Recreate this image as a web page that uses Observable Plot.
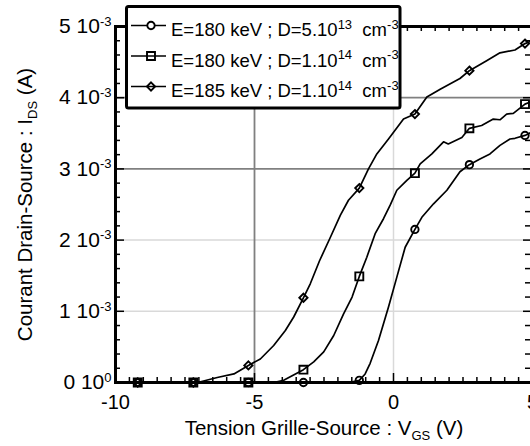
<!DOCTYPE html>
<html><head><meta charset="utf-8">
<script src="https://cdn.jsdelivr.net/npm/d3@7"></script>
<script src="https://cdn.jsdelivr.net/npm/@observablehq/plot@0.6"></script>
<style>
html,body{margin:0;padding:0;background:#fff;overflow:hidden;width:530px;height:446px}
#chart{position:relative;width:534px;height:446px}
#chart svg{display:block}
#legend{position:absolute;left:0;top:0;pointer-events:none}
</style>
</head><body><div id="chart"></div>
<script>
// ---- data (I_DS in mA, V_GS in V) ----
const seriesLabels = [
  "E=180 keV ; D=5.10^{13}  cm^{-3}",
  "E=180 keV ; D=1.10^{14}  cm^{-3}",
  "E=185 keV ; D=1.10^{14}  cm^{-3}"
];
const seriesSymbols = ["circle", "square", "diamond2"];
const markerVgs = [-9.2, -7.2, -5.22, -3.24, -1.23, 0.77, 2.73, 4.73];

const vgsCircle = [-10, -9.2, -7.2, -5.22, -3.24, -1.6, -1.23, -1.02, -0.84, -0.54, -0.18, 0.12, 0.42, 0.77, 1.02, 1.44, 1.92, 2.39, 2.73, 3.11, 3.47, 3.83, 4.19, 4.37, 4.73, 5.0];
const idsCircle = [0, 0, 0, 0, 0, 0, 0.03, 0.12, 0.27, 0.59, 1.06, 1.48, 1.90, 2.15, 2.32, 2.51, 2.70, 2.96, 3.06, 3.14, 3.21, 3.33, 3.42, 3.43, 3.47, 3.52];

const vgsSquare = [-10, -9.2, -7.2, -5.22, -4.31, -3.95, -3.24, -2.87, -2.51, -2.15, -1.80, -1.49, -1.23, -0.96, -0.66, -0.36, -0.12, 0.12, 0.48, 0.77, 0.96, 1.38, 1.80, 1.97, 2.46, 2.73, 3.17, 3.59, 3.83, 4.07, 4.31, 4.73, 5.0];
const idsSquare = [0, 0, 0, 0, 0, 0.03, 0.18, 0.29, 0.43, 0.66, 0.96, 1.20, 1.49, 1.76, 2.09, 2.30, 2.49, 2.70, 2.84, 2.94, 3.07, 3.21, 3.38, 3.35, 3.44, 3.57, 3.61, 3.70, 3.69, 3.77, 3.78, 3.91, 3.95];

const vgsDiamond = [-10, -9.2, -7.2, -6.94, -6.34, -5.74, -5.22, -4.79, -4.31, -3.89, -3.59, -3.24, -2.99, -2.66, -2.27, -1.91, -1.62, -1.23, -0.90, -0.60, -0.18, 0.36, 0.77, 1.20, 1.68, 2.39, 2.73, 3.35, 3.83, 4.37, 4.73, 5.0];
const idsDiamond = [0, 0, 0, 0.01, 0.07, 0.12, 0.24, 0.33, 0.52, 0.73, 0.92, 1.19, 1.39, 1.71, 2.04, 2.35, 2.56, 2.73, 3.00, 3.21, 3.42, 3.70, 3.77, 4.01, 4.12, 4.27, 4.38, 4.52, 4.63, 4.67, 4.76, 4.80];

const yTickValues = [0, 1, 2, 3, 4, 5];
const yTickLabels = ["0 10^{0}", "1 10^{-3}", "2 10^{-3}", "3 10^{-3}", "4 10^{-3}", "5 10^{-3}"];
const xTickValues = [-10, -5, 0, 5];
const xTitle = "Tension Grille-Source : V_{GS} (V)";
const yTitle = "Courant Drain-Source : I_{DS} (A)";

// ---- build tables ----
const seriesV = [vgsCircle, vgsSquare, vgsDiamond];
const seriesI = [idsCircle, idsSquare, idsDiamond];
const rows = [];
seriesV.forEach((vs, s) => vs.forEach((v, j) => rows.push({s, vgs: v, ids: seriesI[s][j]})));
const markerRows = rows.filter(d => markerVgs.includes(d.vgs));

const W = 534, H = 446, mL = 115, mR = 2, mT = 26, mB = 64;
const fH = H - mT - mB, fW = W - mL - mR;
const xMinor = d3.range(-10, 5.001, 0.5).filter(v => Math.abs(v % 5) > 1e-9);
const xMajor = [-5, 0];
const yMinor = d3.range(0, 26).map(k => k / 5).filter(v => Math.abs(v - Math.round(v)) > 1e-9);
const yMajor = [1, 2, 3, 4];
const dotR = [3.7, 4.5, 3.7];

const tk = {stroke: "#000", strokeWidth: 1.5};
const chart = Plot.plot({
  width: W, height: H, marginLeft: mL, marginRight: mR, marginTop: mT, marginBottom: mB,
  style: {fontFamily: "'Liberation Sans', Arial, sans-serif", fontSize: "20px", color: "#000", background: "#fff", overflow: "visible"},
  x: {domain: [-10, 5], ticks: xTickValues, tickSize: 0, tickPadding: 12, tickFormat: d => String(d), label: null},
  y: {domain: [0, 5], ticks: yTickValues, tickSize: 0, tickPadding: 4, tickFormat: d => yTickLabels[yTickValues.indexOf(d)], label: null},
  marks: [
    Plot.ruleX([0], {x: d => d, stroke: "#d9d9d9", strokeWidth: 1.5}),
    Plot.ruleY([1, 2], {y: d => d, stroke: "#d9d9d9", strokeWidth: 1.5}),
    Plot.ruleX([-5], {x: d => d, stroke: "#808080", strokeWidth: 1.8}),
    Plot.ruleY([3, 4], {y: d => d, stroke: "#808080", strokeWidth: 1.8}),
    Plot.tickX(xMinor, {x: d => d, ...tk, insetTop: fH - 5}),
    Plot.tickX(xMajor, {x: d => d, ...tk, insetTop: fH - 9}),
    Plot.tickX(xMinor, {x: d => d, ...tk, insetBottom: fH - 5}),
    Plot.tickX(xMajor, {x: d => d, ...tk, insetBottom: fH - 9}),
    Plot.tickY(yMinor, {y: d => d, ...tk, insetRight: fW - 5}),
    Plot.tickY(yMajor, {y: d => d, ...tk, insetRight: fW - 9}),
    Plot.tickY(yMinor, {y: d => d, ...tk, insetLeft: fW - 7}),
    Plot.tickY(yMajor, {y: d => d, ...tk, insetLeft: fW - 9}),
    Plot.line(rows, {x: "vgs", y: "ids", z: "s", stroke: "#000", strokeWidth: 1.7, curve: "linear"}),
    ...seriesSymbols.map((sym, s) => Plot.dot(markerRows.filter(d => d.s === s), {x: "vgs", y: "ids", symbol: sym, r: dotR[s], stroke: "#000", strokeWidth: 1.9, fill: "none"})),
    Plot.frame({stroke: "#000", strokeWidth: 3}),
    Plot.text([xTitle], {frameAnchor: "bottom", dy: 46, fontSize: 20.5, textAnchor: "middle", lineAnchor: "middle", text: d => d}),
    Plot.text([yTitle], {frameAnchor: "left", dx: -90, rotate: -90, fontSize: 20.5, textAnchor: "middle", lineAnchor: "middle", text: d => d})
  ]
});
const host = document.getElementById("chart");
host.appendChild(chart);
d3.select(chart).selectAll('g[aria-label="y-axis tick label"]').attr("font-size", 21).style("font-size", "21px");

// ---- legend overlay ----
const leg = d3.select(host).append("svg").attr("id", "legend").attr("width", 530).attr("height", 115)
  .style("font-family", "'Liberation Sans', Arial, sans-serif").style("font-size", "18.5px");
leg.append("rect").attr("x", 126.5).attr("y", 6.5).attr("width", 273.5).attr("height", 101.5).attr("rx", 2)
  .attr("fill", "#fff").attr("stroke", "#000").attr("stroke-width", 3);
const symMap = {circle: d3.symbolCircle, square: d3.symbolSquare, diamond2: d3.symbolDiamond2};
seriesLabels.forEach((lab, s) => {
  const ly = 25.5 + s * 30.5;
  leg.append("line").attr("x1", 131).attr("x2", 166).attr("y1", ly).attr("y2", ly).attr("stroke", "#000").attr("stroke-width", 1.7);
  leg.append("path").attr("transform", `translate(151,${ly})`)
    .attr("d", d3.symbol().type(symMap[seriesSymbols[s]]).size(dotR[s] * dotR[s] * Math.PI)())
    .attr("fill", s === 0 ? "#fff" : "none").attr("stroke", "#000").attr("stroke-width", 1.9);
  leg.append("text").attr("x", 171).attr("y", ly + 10.5).text(lab);
});

// ---- rich text (superscripts / subscripts) ----
function richify(el) {
  const s = el.textContent;
  if (!/[\^_]\{/.test(s)) return;
  const t = d3.select(el);
  t.text(null).style("white-space", "pre");
  const re = /([\^_])\{([^}]*)\}/g;
  let last = 0, m, pending = 0;
  while ((m = re.exec(s))) {
    if (m.index > last) {
      t.append("tspan").attr("dy", pending ? -pending : null).text(s.slice(last, m.index));
      pending = 0;
    }
    const shift = m[1] === "^" ? -7.5 : 4.5;
    t.append("tspan").attr("dy", shift - pending).style("font-size", "13px").text(m[2]);
    pending = shift;
    last = re.lastIndex;
  }
  if (last < s.length) t.append("tspan").attr("dy", pending ? -pending : null).text(s.slice(last));
}
d3.select(host).selectAll("text").each(function () { richify(this); });
</script>
</body></html>
